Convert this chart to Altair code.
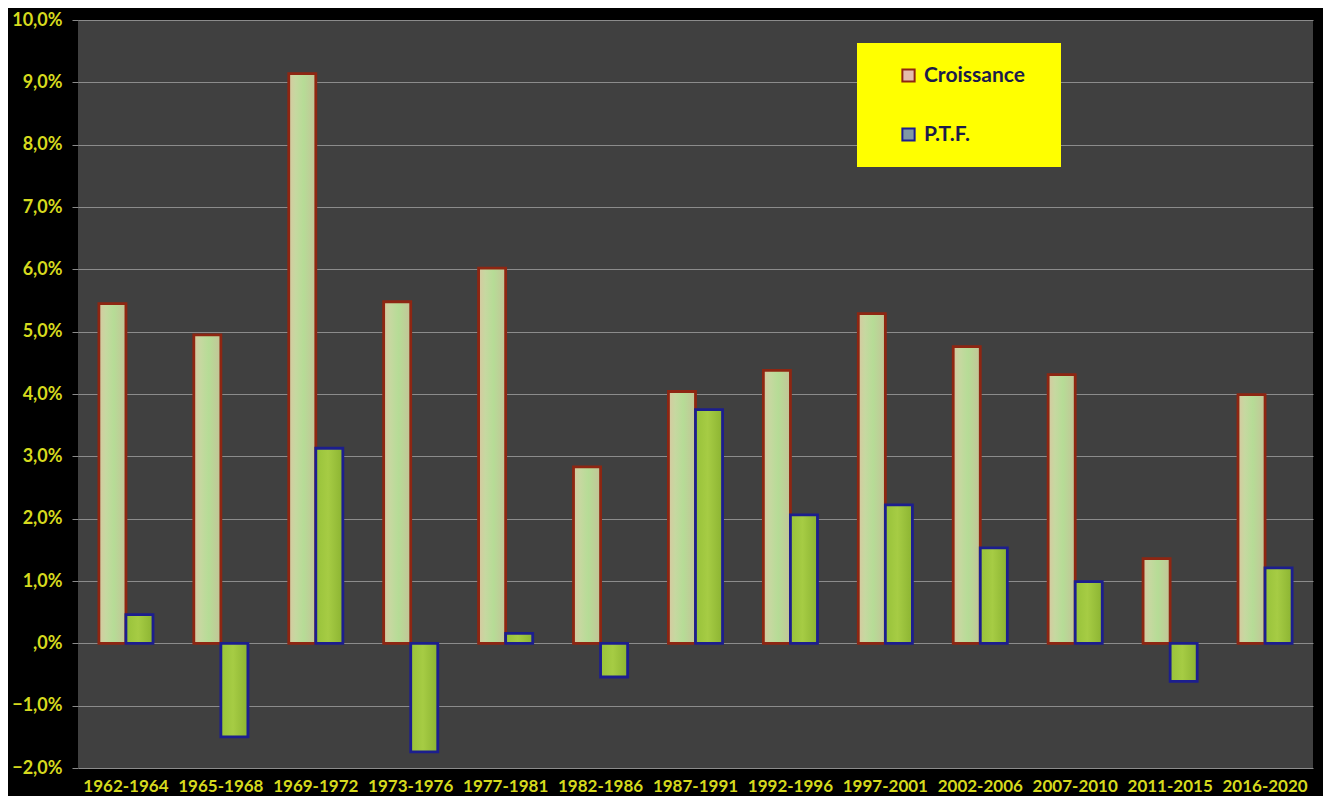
import altair as alt
import pandas as pd

periods = ["1962-1964", "1965-1968", "1969-1972", "1973-1976", "1977-1981", "1982-1986",
           "1987-1991", "1992-1996", "1997-2001", "2002-2006", "2007-2010", "2011-2015", "2016-2020"]
croissance = [5.45, 4.95, 9.14, 5.48, 6.02, 2.83, 4.04, 4.38, 5.29, 4.76, 4.31, 1.36, 3.99]
ptf = [0.46, -1.50, 3.13, -1.74, 0.16, -0.54, 3.75, 2.06, 2.22, 1.53, 0.99, -0.61, 1.21]
series = ["Croissance", "P.T.F."]
y_ticks = [-2, -1, 0, 1, 2, 3, 4, 5, 6, 7, 8, 9, 10]

rows = []
for p, c, t in zip(periods, croissance, ptf):
    rows.append({"period": p, "series": series[0], "value": c})
    rows.append({"period": p, "series": series[1], "value": t})
df = pd.DataFrame(rows)

grad_c = alt.LinearGradient(
    gradient="linear", x1=0, x2=1, y1=0, y2=0,
    stops=[alt.GradientStop(offset=0, color="#d8c8a0"),
           alt.GradientStop(offset=0.25, color="#c6d8a0"),
           alt.GradientStop(offset=0.55, color="#b6dc96"),
           alt.GradientStop(offset=1, color="#c4c498")])
grad_p = alt.LinearGradient(
    gradient="linear", x1=0, x2=1, y1=0, y2=0,
    stops=[alt.GradientStop(offset=0, color="#98c23a"),
           alt.GradientStop(offset=0.45, color="#a6cc44"),
           alt.GradientStop(offset=1, color="#8cb432")])

yellow = "#d6da1e"
stroke_scale = alt.Scale(domain=series, range=["#8e2612", "#1c1e8e"])

label_expr = "datum.value == 0 ? ',0%' : replace(format(datum.value, '.1f'), '.', ',') + '%'"

legend_def = alt.Legend(
    title=" ", titleOrient="right", titlePadding=14, titleFontSize=10,
    orient="none", legendX=779, legendY=23,
    fillColor="#ffff00", padding=22, symbolOffset=19,
    rowPadding=37, symbolType="square", symbolSize=150,
    symbolStrokeWidth=2, symbolOpacity=1,
    labelFont="Lato", labelFontWeight="bold",
    labelFontSize=21, labelColor="#1c1c4a", labelOffset=5)

x_enc = alt.X("period:N", sort=periods,
              scale=alt.Scale(paddingInner=0.43, paddingOuter=0.22),
              axis=alt.Axis(title=None, labelAngle=0, ticks=False, domain=False,
                            labelColor=yellow, labelFont="Lato", labelFontWeight="bold",
                            labelFontSize=17, labelPadding=10, grid=False))
xo_enc = alt.XOffset("series:N", sort=series, scale=alt.Scale(paddingInner=0, paddingOuter=0))
y_enc = alt.Y("value:Q", scale=alt.Scale(domain=[-2, 10], nice=False, zero=False),
              axis=alt.Axis(title=None, values=y_ticks, labelExpr=label_expr,
                            labelColor=yellow, labelFont="Lato", labelFontWeight="bold",
                            labelFontSize=18, labelPadding=10, tickSize=6,
                            tickColor="#8a8a8a", domain=False,
                            grid=True, gridColor="#8c8c8c", gridWidth=1.2))

base = alt.Chart(df)

bars = base.mark_bar(strokeWidth=2.8).encode(
    x=x_enc, xOffset=xo_enc, y=y_enc,
    fill=alt.condition("datum.series == 'Croissance'", alt.value(grad_c), alt.value(grad_p)),
    stroke=alt.Stroke("series:N", sort=series, scale=stroke_scale, legend=legend_def),
)

legend_layer = base.mark_bar(opacity=0).encode(
    x=x_enc, xOffset=xo_enc, y=y_enc,
    fill=alt.Fill("series:N", sort=series,
                  scale=alt.Scale(domain=series, range=["#e4bcaa", "#7f98a4"]),
                  legend=legend_def),
    stroke=alt.Stroke("series:N", sort=series, scale=stroke_scale, legend=legend_def),
)

chart = alt.layer(bars, legend_layer).properties(
    width=1235, height=748,
    autosize=alt.AutoSizeParams(type="none"),
    padding={"left": 70, "top": 12, "right": 10, "bottom": 28},
    background="#000000",
).configure_view(fill="#404040", stroke=None)

chart.save("out.html", embed_options={"renderer": "svg", "actions": False})
